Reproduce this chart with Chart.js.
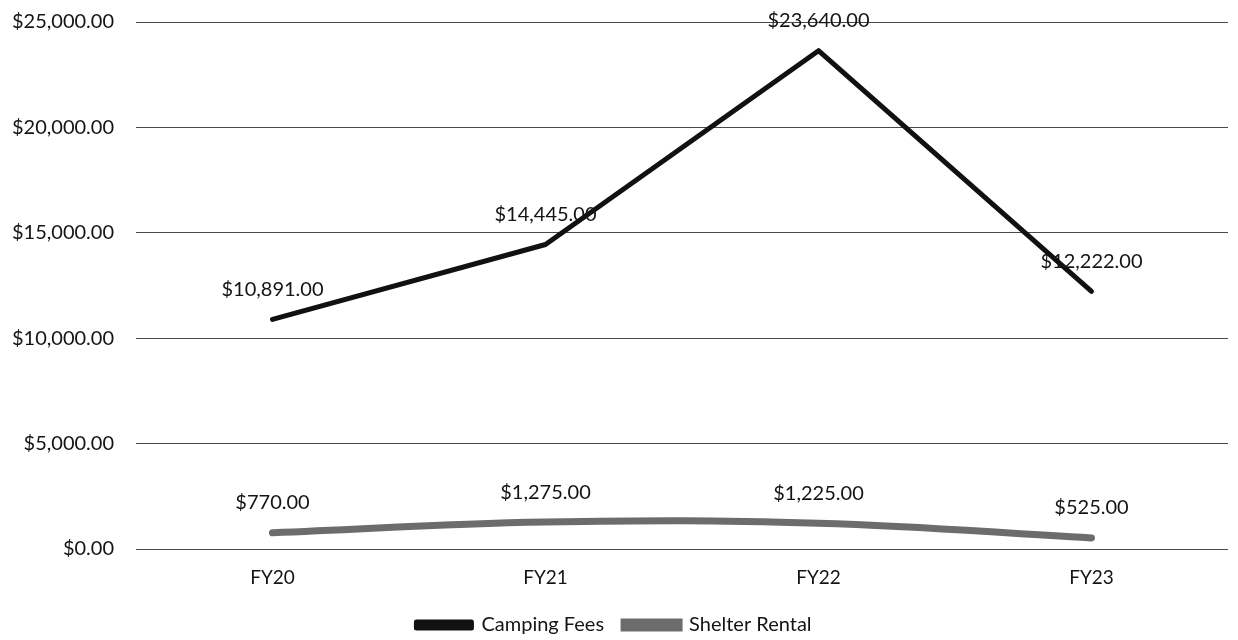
<!DOCTYPE html>
<html>
<head>
<meta charset="utf-8">
<script src="https://cdn.jsdelivr.net/npm/chart.js@4.4.1/dist/chart.umd.min.js"></script>
<style>
  html, body { margin: 0; padding: 0; background: #fff; }
  #wrap { width: 1238px; height: 640px; }
</style>
</head>
<body>
<div id="wrap"><canvas id="grafica"></canvas></div>
<script>
const anios = ['FY20', 'FY21', 'FY22', 'FY23'];
const campamento = [10891, 14445, 23640, 12222];
const refugios = [770, 1275, 1225, 525];
const ticksY = [0, 5000, 10000, 15000, 20000, 25000];

const fuente = 'Lato, "Open Sans", sans-serif';

const dinero = v => '$' + v.toLocaleString('en-US', { minimumFractionDigits: 2, maximumFractionDigits: 2 });

// etiquetas encima de cada punto
const etiquetasPlugin = {
    id: 'etiquetas',
    afterDatasetsDraw(chart) {
        const ctx = chart.ctx;
        ctx.save();
        ctx.font = '20px ' + fuente;
        ctx.fillStyle = '#141414';
        ctx.textAlign = 'center';
        ctx.textBaseline = 'middle';
        chart.data.datasets.forEach((ds, i) => {
            chart.getDatasetMeta(i).data.forEach((pt, j) => {
                ctx.fillText(dinero(ds.data[j]), pt.x, pt.y - 30);
            });
        });
        ctx.restore();
    }
};

new Chart(document.getElementById('grafica'), {
    type: 'line',
    data: {
        labels: anios,
        datasets: [{
            label: 'Camping Fees',
            data: campamento,
            borderColor: '#111111',
            backgroundColor: '#111111',
            borderWidth: 5,
            pointRadius: 0,
            tension: 0,
            borderCapStyle: 'round',
            borderJoinStyle: 'round'
        }, {
            label: 'Shelter Rental',
            data: refugios,
            borderColor: '#6c6c6c',
            backgroundColor: '#6c6c6c',
            borderWidth: 7,
            pointRadius: 0,
            tension: 0.4,
            borderCapStyle: 'round'
        }]
    },
    options: {
        responsive: true,
        maintainAspectRatio: false,
        animation: false,
        layout: { padding: { top: 22, right: 10, bottom: -5, left: 0 } },
        plugins: {
            legend: {
                position: 'bottom',
                labels: {
                    font: { family: fuente, size: 20 },
                    color: '#141414',
                    boxWidth: 55,
                    boxHeight: 6,
                    padding: 20
                }
            },
            tooltip: { enabled: false }
        },
        scales: {
            x: {
                offset: true,
                afterFit: scale => { scale.height = 46; },
                grid: { display: false, drawTicks: false },
                border: { display: false },
                ticks: {
                    font: { family: fuente, size: 19 },
                    color: '#141414',
                    padding: 17
                }
            },
            y: {
                min: 0,
                max: 25000,
                afterFit: scale => { scale.width = 136; },
                afterBuildTicks: scale => { scale.ticks = ticksY.map(v => ({ value: v })); },
                grid: { color: '#4a4a4a', lineWidth: 1, drawTicks: true, tickLength: 22, tickColor: 'rgba(0,0,0,0)' },
                border: { display: false },
                ticks: {
                    font: { family: fuente, size: 20 },
                    color: '#141414',
                    padding: 0,
                    callback: v => dinero(v)
                }
            }
        }
    },
    plugins: [etiquetasPlugin]
});
</script>
</body>
</html>
